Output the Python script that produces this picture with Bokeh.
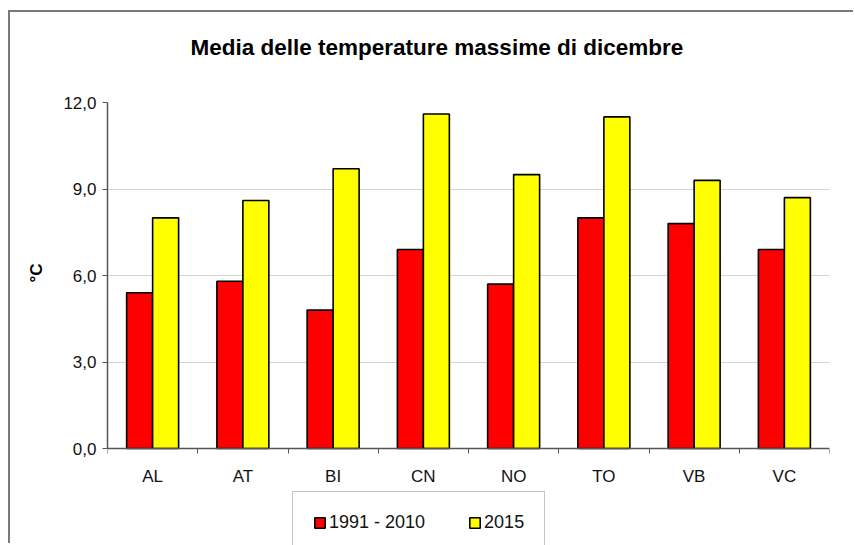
from bokeh.plotting import figure
from bokeh.models import (ColumnDataSource, FixedTicker, Range1d, Legend, LegendItem, Title, Grid)
from bokeh.embed import file_html
from bokeh.resources import INLINE

categories = ["AL", "AT", "BI", "CN", "NO", "TO", "VB", "VC"]
series_1991_2010 = [5.4, 5.8, 4.8, 6.9, 5.7, 8.0, 7.8, 6.9]
series_2015 = [8.0, 8.6, 9.7, 11.6, 9.5, 11.5, 9.3, 8.7]
y_ticks = [0, 3, 6, 9, 12]
y_tick_labels = ["0,0", "3,0", "6,0", "9,0", "12,0"]
series_names = ["1991 - 2010", "2015"]
chart_title = "Media delle temperature massime di dicembre"

FONT = "Liberation Sans"
bar_w = 0.288
n = len(categories)
centers = [i + 0.5 for i in range(n)]

src = ColumnDataSource(dict(
    xr=[c - bar_w / 2 for c in centers],
    xy=[c + bar_w / 2 for c in centers],
    a=series_1991_2010,
    b=series_2015,
))

p = figure(width=845, height=533, output_backend="svg", toolbar_location=None,
           x_range=Range1d(0, n), y_range=Range1d(-3.364, 12),
           min_border_left=97, min_border_right=26, min_border_top=90, min_border_bottom=0)
p.styles = {"border-top": "2px solid #7a7a7a", "border-left": "2px solid #7a7a7a",
            "margin-left": "8px", "margin-top": "10px"}

r1 = p.vbar(x="xr", top="a", bottom=0, width=bar_w, source=src, fill_color="#FF0000",
            line_color="#000000", line_width=1.6)
r2 = p.vbar(x="xy", top="b", bottom=0, width=bar_w, source=src, fill_color="#FFFF00",
            line_color="#000000", line_width=1.6)

p.outline_line_color = None
p.background_fill_color = "white"
p.border_fill_color = "white"

# grids
p.xgrid.ticker = FixedTicker(ticks=[n])
p.xgrid.bounds = (0, 12)
p.xgrid.grid_line_color = "#9a9a9a"
p.xgrid.grid_line_width = 1.5
p.ygrid.ticker = FixedTicker(ticks=[3, 6, 9])
p.ygrid.grid_line_color = "#d4d4d4"
p.ygrid.grid_line_width = 1.2
p.add_layout(Grid(dimension=1, ticker=FixedTicker(ticks=[12]),
                  grid_line_color="#9a9a9a", grid_line_width=1.5))

# y axis
p.yaxis.ticker = FixedTicker(ticks=y_ticks)
p.yaxis.bounds = (0, 12)
p.yaxis.major_label_overrides = {t: l for t, l in zip(y_ticks, y_tick_labels)}
p.yaxis.axis_line_color = "#555555"
p.yaxis.axis_line_width = 1.5
p.yaxis.major_tick_line_color = "#555555"
p.yaxis.major_tick_out = 5
p.yaxis.major_tick_in = 0
p.yaxis.minor_tick_line_color = None
p.yaxis.major_label_text_font = FONT
p.yaxis.major_label_text_font_size = "17px"
p.yaxis.major_label_text_color = "#111111"
p.yaxis.major_label_standoff = 6

# y axis title, centred on the 0-12 span
p.add_layout(Title(text="°C", align="left", offset=263, text_font=FONT,
                   text_font_size="17px", text_font_style="bold",
                   text_color="#000000", standoff=29), "left")

# x axis at y = 0: labels at centres, ticks at boundaries
p.xaxis.fixed_location = 0
p.xaxis.ticker = FixedTicker(ticks=centers, minor_ticks=list(range(n + 1)))
p.xaxis.major_label_overrides = {c: l for c, l in zip(centers, categories)}
p.xaxis.major_tick_line_color = None
p.xaxis.minor_tick_line_color = "#555555"
p.xaxis.minor_tick_out = 5
p.xaxis.minor_tick_in = 0
p.xaxis.axis_line_color = "#555555"
p.xaxis.axis_line_width = 1.5
p.xaxis.major_label_text_font = FONT
p.xaxis.major_label_text_font_size = "17px"
p.xaxis.major_label_text_color = "#111111"
p.xaxis.major_label_standoff = 12

# title (a blank second line keeps it higher above the plot area)
p.title = Title(text=chart_title + "\n ", align="left",
                offset=83, text_font=FONT, text_font_size="22.5px",
                text_font_style="bold", text_color="#000000", standoff=36)

legend = Legend(items=[LegendItem(label=series_names[0], renderers=[r1]),
                       LegendItem(label=series_names[1], renderers=[r2])],
                orientation="horizontal", location=(185, -9),
                glyph_width=13, glyph_height=13, label_height=13,
                label_standoff=3, spacing=43, padding=20, margin=0,
                label_text_font=FONT, label_text_font_size="18px",
                label_text_color="#111111",
                border_line_color="#8a8a8a", border_line_width=1.5,
                background_fill_color="white", background_fill_alpha=1.0)
p.add_layout(legend, "center")

open("out.html", "w").write(file_html(p, INLINE))
